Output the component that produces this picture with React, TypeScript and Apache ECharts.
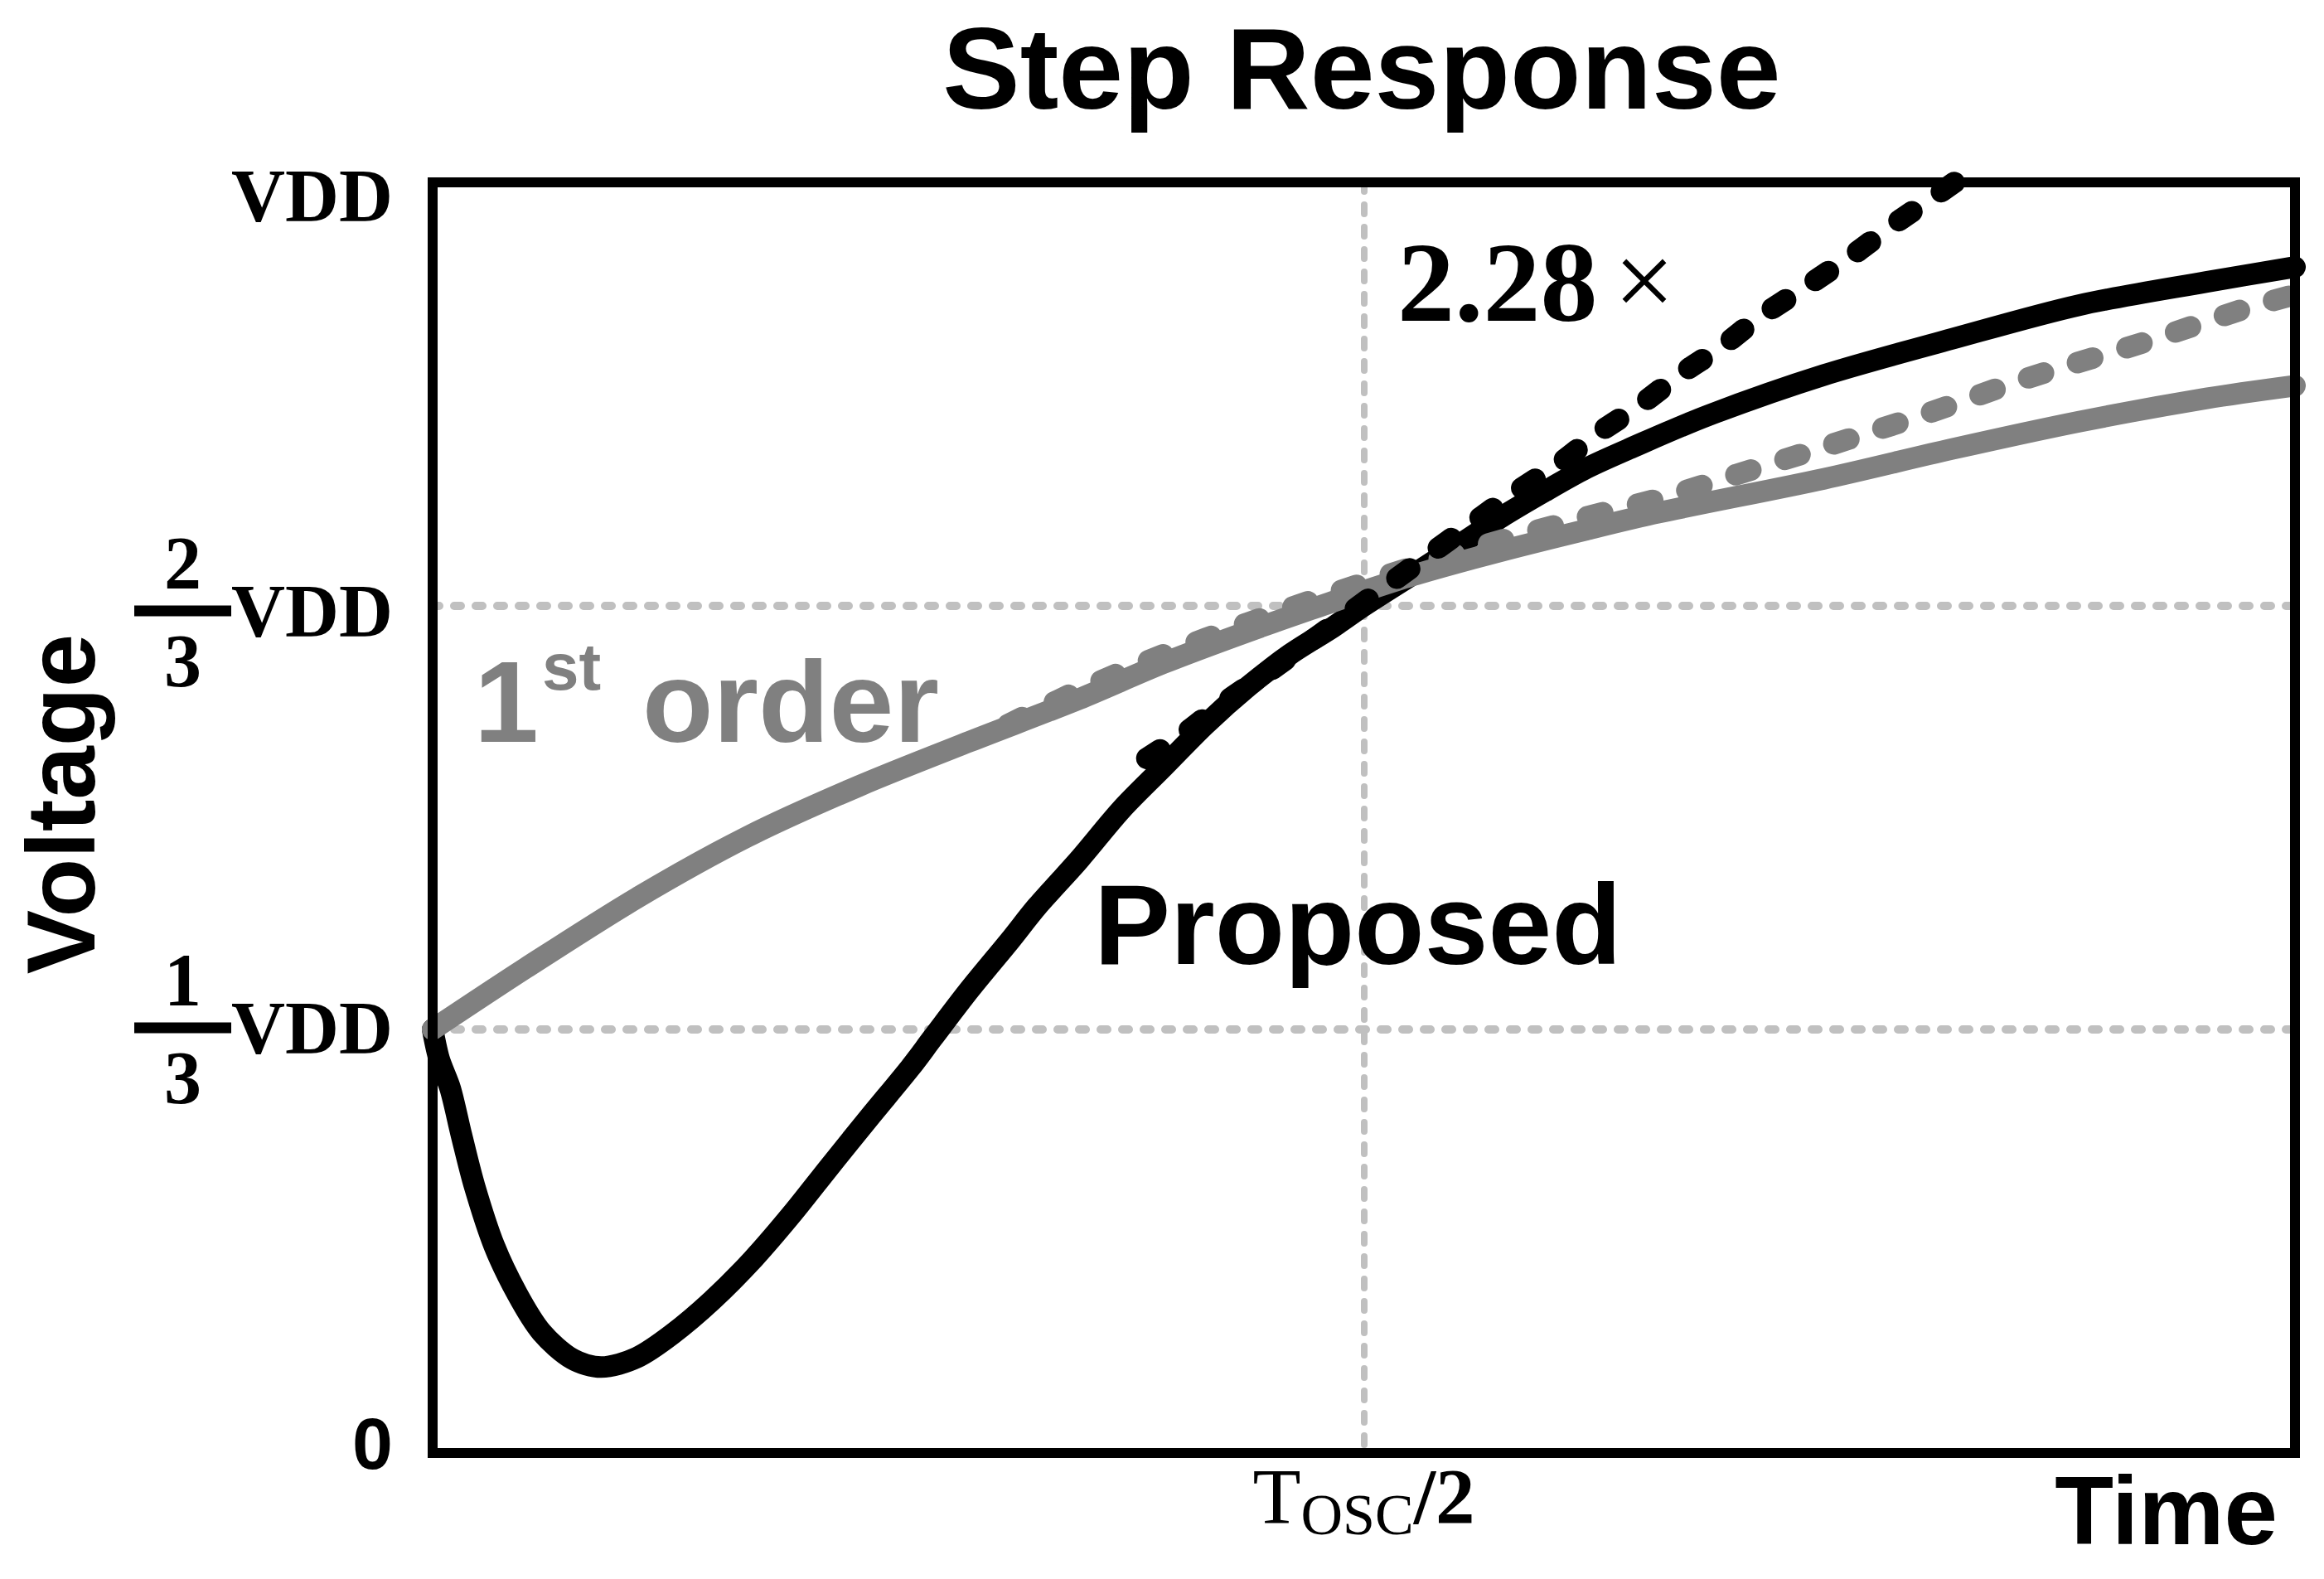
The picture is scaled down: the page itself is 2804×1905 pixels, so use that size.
import React, { useEffect, useRef } from "react";
import * as echarts from "echarts";

const SANS = '"Liberation Sans", Arial, sans-serif';
const SERIF = '"Liberation Serif", "Times New Roman", serif';

const chartTitle = "Step Response";
const yAxisTitle = "Voltage";
const xAxisTitle = "Time";

// y in units of VDD/3 (3 = VDD); x in units of Tosc/2
const yTickValues = [0, 1, 2, 3];
const yTickLabels = ["0", "1/3 VDD", "2/3 VDD", "VDD"];
const xTickValues = [0, 1, 2];
const xTickMain = ["", "T", ""];
const xTickSub = ["", "OSC", ""];
const xTickTail = ["", "/2", ""];

const proposedX = [0, 0.007, 0.019, 0.031, 0.045, 0.066, 0.091, 0.117, 0.15, 0.181, 0.219, 0.257, 0.3, 0.343, 0.385, 0.427, 0.47, 0.513, 0.537, 0.577, 0.62, 0.649, 0.694, 0.74, 0.785, 0.83, 0.876, 0.921, 0.967, 1.0, 1.057, 1.103, 1.148, 1.194, 1.239, 1.284, 1.37, 1.494, 1.631, 1.768, 1.905, 2.0];
const proposedY = [1.0, 0.93, 0.86, 0.75, 0.63, 0.49, 0.375, 0.285, 0.222, 0.203, 0.225, 0.28, 0.36, 0.455, 0.562, 0.678, 0.795, 0.91, 0.98, 1.095, 1.21, 1.29, 1.4, 1.52, 1.62, 1.72, 1.81, 1.886, 1.95, 2.0, 2.08, 2.145, 2.21, 2.27, 2.325, 2.37, 2.45, 2.545, 2.63, 2.71, 2.765, 2.8];

const firstOrderX = [0, 0.1, 0.219, 0.338, 0.458, 0.577, 0.694, 0.785, 0.876, 0.967, 1.0, 1.057, 1.148, 1.239, 1.316, 1.494, 1.631, 1.768, 1.905, 2.0];
const firstOrderY = [1.0, 1.145, 1.31, 1.455, 1.575, 1.68, 1.78, 1.865, 1.94, 2.01, 2.035, 2.075, 2.13, 2.18, 2.22, 2.3, 2.37, 2.435, 2.49, 2.52];

const firstOrderExtX = [0.618, 0.694, 0.785, 0.876, 0.967, 1.057, 1.148, 1.239, 1.32, 1.4, 1.494, 1.606, 1.716, 1.842, 1.944, 2.0];
const firstOrderExtY = [1.72, 1.8, 1.885, 1.96, 2.03, 2.095, 2.155, 2.21, 2.255, 2.31, 2.375, 2.455, 2.54, 2.625, 2.7, 2.735];

const proposedExtX = [0.767, 0.808, 0.849, 0.895, 0.967, 1.057, 1.126, 1.164, 1.212, 1.253, 1.294, 1.342, 1.383, 1.424, 1.479, 1.526, 1.575, 1.615, 1.66];
const proposedExtY = [1.64, 1.7, 1.77, 1.84, 1.955, 2.1, 2.21, 2.27, 2.34, 2.41, 2.47, 2.55, 2.61, 2.68, 2.76, 2.83, 2.91, 2.97, 3.04];

const firstOrderLabel = ["1", "st", "order"];
const proposedLabel = "Proposed";
const ratioLabel = "2.28";
const ratioSign = "×";

const zip = (xs: number[], ys: number[]) => xs.map((x, i) => [x, ys[i]]);

const BLACK = "#000000";
const GRAY = "#808080";
const GRID_GRAY = "#c0c0c0";

function yLabelFormatter(value: number) {
  const i = yTickValues.indexOf(Math.round(value));
  const lab = i >= 0 ? yTickLabels[i] : "";
  if (lab.includes("/")) {
    const [frac, unit] = lab.split(" ");
    const [num, den] = frac.split("/");
    const head = i === 2 ? "{g16|}\n" : "";
    return `${head}{n|${num}}{sp|}\n{bar|}{v|${unit}}\n{d|${den}}{sp|}`;
  }
  if (lab === "0") return `{z|0}\n{g24|}`;
  if (lab) return `{g32|}\n{vt|${lab}}`;
  return "";
}

function xLabelFormatter(value: number) {
  const i = xTickValues.indexOf(Math.round(value));
  if (i < 0 || !xTickMain[i]) return "";
  return `{T|${xTickMain[i]}}{s|${xTickSub[i]}}{r|${xTickTail[i]}}`;
}

const serifBold = { fontFamily: SERIF, fontWeight: "bold" as const, fontSize: 90, color: BLACK };

const option: any = {
  animation: false,
  backgroundColor: "#ffffff",
  grid: {
    left: 522,
    right: 35,
    top: 220,
    bottom: 152,
    show: true,
    z: 10,
    borderColor: BLACK,
    borderWidth: 12,
    backgroundColor: "transparent",
    containLabel: false,
    outerBoundsMode: "none",
  },
  xAxis: {
    type: "value",
    min: 0,
    max: 2,
    interval: 1,
    axisLine: { show: false },
    axisTick: { show: false },
    splitLine: {
      show: true,
      lineStyle: { color: GRID_GRAY, width: 8, type: [11, 16], cap: "round" },
    },
    axisLabel: {
      margin: 0,
      formatter: xLabelFormatter,
      rich: {
        T: { fontFamily: SERIF, fontSize: 95, height: 95, lineHeight: 100, verticalAlign: "bottom", color: BLACK },
        s: { fontFamily: SERIF, fontSize: 70, height: 52, verticalAlign: "bottom", color: BLACK },
        r: { fontFamily: SERIF, fontWeight: "bold", fontSize: 95, height: 95, lineHeight: 100, verticalAlign: "bottom", color: BLACK },
      },
    },
  },
  yAxis: {
    type: "value",
    min: 0,
    max: 3,
    interval: 1,
    axisLine: { show: false },
    axisTick: { show: false },
    splitLine: {
      show: true,
      lineStyle: { color: GRID_GRAY, width: 10, type: [8, 18], cap: "round" },
    },
    axisLabel: {
      margin: 48,
      formatter: yLabelFormatter,
      rich: {
        n: { ...serifBold, lineHeight: 66, align: "center" },
        d: { ...serifBold, lineHeight: 70, align: "center" },
        sp: { width: 195, lineHeight: 10, align: "right" },
        bar: { width: 117, height: 13, lineHeight: 13, backgroundColor: BLACK, align: "left" },
        v: { ...serifBold, lineHeight: 50, width: 195, align: "left" },
        vt: { ...serifBold, lineHeight: 90 },
        z: { fontFamily: SANS, fontWeight: "bold", fontSize: 88, lineHeight: 90, color: BLACK },
        g16: { lineHeight: 16 },
        g24: { lineHeight: 24 },
        g32: { lineHeight: 32 },
      },
    },
  },
  series: [
    {
      name: "Proposed",
      type: "line",
      data: zip(proposedX, proposedY),
      showSymbol: false,
      symbol: "none",
      smooth: 0.3,
      silent: true,
      z: 2,
      lineStyle: { color: BLACK, width: 26, cap: "round", join: "round" },
    },
    {
      name: "1st order",
      type: "line",
      data: zip(firstOrderX, firstOrderY),
      showSymbol: false,
      symbol: "none",
      smooth: 0.3,
      silent: true,
      z: 3,
      lineStyle: { color: GRAY, width: 26, cap: "round", join: "round" },
    },
    {
      name: "1st order (dotted)",
      type: "line",
      data: zip(firstOrderExtX, firstOrderExtY),
      showSymbol: false,
      symbol: "none",
      smooth: 0.3,
      silent: true,
      z: 4,
      lineStyle: { color: GRAY, width: 26, type: [19, 43], cap: "round", join: "round" },
    },
    {
      name: "Proposed (dotted)",
      type: "line",
      data: zip(proposedExtX, proposedExtY),
      showSymbol: false,
      symbol: "none",
      smooth: 0.3,
      silent: true,
      z: 5,
      lineStyle: { color: BLACK, width: 26, type: [19, 43], cap: "round", join: "round" },
    },
  ],
  graphic: [
    {
      type: "text",
      x: 1643,
      y: 82,
      z: 20,
      style: { text: chartTitle, fill: BLACK, fontFamily: SANS, fontWeight: "bold", fontSize: 140, textAlign: "center", textVerticalAlign: "middle", verticalAlign: "middle" },
    },
    {
      type: "text",
      x: 74,
      y: 970,
      rotation: Math.PI / 2,
      z: 20,
      style: { text: yAxisTitle, fill: BLACK, fontFamily: SANS, fontWeight: "bold", fontSize: 116, textAlign: "center", textVerticalAlign: "middle", verticalAlign: "middle" },
    },
    {
      type: "text",
      x: 2748,
      y: 1823,
      z: 20,
      style: { text: xAxisTitle, fill: BLACK, fontFamily: SANS, fontWeight: "bold", fontSize: 116, textAlign: "right", textVerticalAlign: "middle", verticalAlign: "middle" },
    },
    {
      type: "text",
      x: 572,
      y: 846,
      z: 20,
      style: { text: firstOrderLabel[0], fill: GRAY, fontFamily: SANS, fontWeight: "bold", fontSize: 140, textAlign: "left", textVerticalAlign: "middle", verticalAlign: "middle" },
    },
    {
      type: "text",
      x: 654,
      y: 804,
      z: 20,
      style: { text: firstOrderLabel[1], fill: GRAY, fontFamily: SANS, fontWeight: "bold", fontSize: 80, textAlign: "left", textVerticalAlign: "middle", verticalAlign: "middle" },
    },
    {
      type: "text",
      x: 775,
      y: 846,
      z: 20,
      style: { text: firstOrderLabel[2], fill: GRAY, fontFamily: SANS, fontWeight: "bold", fontSize: 140, textAlign: "left", textVerticalAlign: "middle", verticalAlign: "middle" },
    },
    {
      type: "text",
      x: 1320,
      y: 1115,
      z: 20,
      style: { text: proposedLabel, fill: BLACK, fontFamily: SANS, fontWeight: "bold", fontSize: 138, textAlign: "left", textVerticalAlign: "middle", verticalAlign: "middle" },
    },
    {
      type: "text",
      x: 1686,
      y: 340,
      z: 20,
      style: { text: ratioLabel, fill: BLACK, fontFamily: SERIF, fontWeight: "bold", fontSize: 138, textAlign: "left", textVerticalAlign: "middle", verticalAlign: "middle" },
    },
    {
      type: "text",
      x: 1984,
      y: 338,
      z: 20,
      style: { text: ratioSign, fill: BLACK, fontFamily: SERIF, fontWeight: "normal", fontSize: 130, textAlign: "center", textVerticalAlign: "middle", verticalAlign: "middle" },
    },
  ],
};

export default function App() {
  const ref = useRef<HTMLDivElement>(null);
  useEffect(() => {
    if (!ref.current) return;
    const chart = echarts.init(ref.current, null, { renderer: "svg" });
    chart.setOption(option);
    return () => chart.dispose();
  }, []);
  return (
    <div
      ref={ref}
      style={{ position: "absolute", left: 0, top: 0, width: 2804, height: 1905, background: "#fff" }}
    />
  );
}
